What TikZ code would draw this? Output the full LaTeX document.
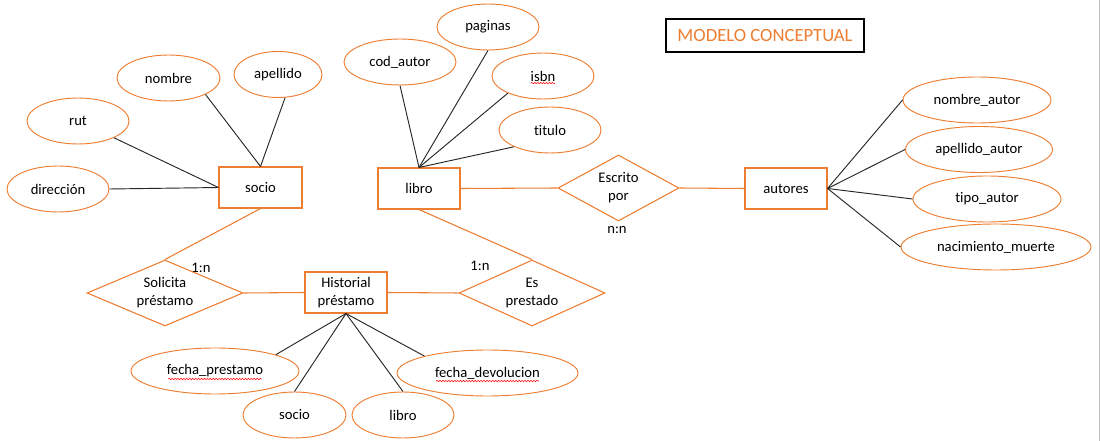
\documentclass[tikz,border=0pt]{standalone}
\usepackage{fontspec}
\setmainfont{Carlito}[Ligatures=NoCommon]
\usepackage{tikz}
\usetikzlibrary{shapes.geometric}
\usetikzlibrary{decorations.pathmorphing}
\definecolor{naranja}{RGB}{237,125,49}
\tikzset{
	attr node/.style={ellipse,draw=naranja,line width=0.7pt,inner sep=0pt,minimum height=34.5pt},
	ent node/.style={rectangle,draw=naranja,line width=0.8pt,inner sep=0pt,minimum width=61.5pt,minimum height=30.75pt,align=center},
	rel node/.style={diamond,draw=naranja,line width=0.8pt,inner sep=0pt,minimum height=49.5pt,align=center},
	attr line/.style={draw=black!85,line width=0.7pt},
	rel line/.style={draw=naranja,line width=0.8pt},
	spell/.style={draw=red,line width=0.4pt,decorate,decoration={snake,amplitude=0.5pt,segment length=2.2pt}}
}

\begin{document}
\begin{tikzpicture}[x=0.75pt,y=-0.75pt,every node/.style={font=\fontsize{11}{13.4}\selectfont}]
	\useasboundingbox (0,0) rectangle (1100,441);
	% socio
	\node [ent node,minimum width=62.25pt] (1) at (260.5,187.5) {socio};
	\node [attr node,minimum width=77.25pt] (2) at (168.5,78) {nombre};
	\node [attr node,minimum width=66pt] (3) at (278,74.5) {apellido};
	\node [attr node,minimum width=76.5pt] (4) at (78,121) {rut};
	\node [attr node,minimum width=76.5pt] (5) at (58,189) {dirección};
	% libro
	\node [ent node] (6) at (419,188.5) {libro};
	\node [attr node,minimum width=84pt] (7) at (400,62) {cod\_autor};
	\node [attr node,minimum width=76.5pt] (8) at (488,27) {paginas};
	\node [attr node,minimum width=76.5pt] (9) at (543,76) {isbn};
	\node [attr node,minimum width=76.5pt] (10) at (550,130) {titulo};
	\node [rel node,aspect=1.83,minimum width=90.75pt] (11) at (618.5,188) {Escrito\\por};
	% autores
	\node [ent node] (12) at (786,188.5) {autores};
	\node [attr node,minimum width=111pt] (13) at (977,100) {nombre\_autor};
	\node [attr node,minimum width=110.25pt] (14) at (979,149.5) {apellido\_autor};
	\node [attr node,minimum width=111pt] (15) at (987,199) {tipo\_autor};
	\node [attr node,minimum width=142.5pt] (16) at (996,247) {nacimiento\_muerte};
	% historial
	\node [rel node,aspect=2.36,minimum width=117pt] (17) at (165,293) {Solicita\\préstamo};
	\node [ent node] (18) at (346,292.5) {Historial\\préstamo};
	\node [rel node,aspect=2.2,minimum width=109.5pt] (19) at (532,293) {Es\\prestado};
	\node [attr node,minimum width=126pt] (20) at (215,371) {fecha\_prestamo};
	\node [attr node,minimum width=77.25pt] (21) at (294.5,415) {socio};
	\node [attr node,minimum width=76.5pt] (22) at (403,415) {libro};
	\node [attr node,minimum width=135.75pt] (23) at (487.5,373) {fecha\_devolucion};
	\node [draw=black,line width=1.4pt,inner sep=0pt,minimum width=148.5pt,minimum height=24.75pt,text=naranja,font=\fontsize{14}{17}\selectfont] (24) at (765,35.5) {MODELO CONCEPTUAL};
	\node (25) at (617,230) {n:n};
	\node (26) at (201,268) {1:n};
	\node (27) at (480,266) {1:n};

	\draw [attr line] (1.north) -- (2.-24);
	\draw [attr line] (1.north) -- (3.-73);
	\draw [attr line] (1.west) -- (4.-25);
	\draw [attr line] (1.west) -- (5.east);
	\draw [attr line] (6.north) -- (7.south);
	\draw [attr line] (6.north) -- (8.south);
	\draw [attr line] (6.north) -- (9.206);
	\draw [attr line] (6.north) -- (10.205);
	\foreach \n in {13,...,16}
		\draw [attr line] (12.east) -- (\n.west);
	\draw [attr line] (18.south) -- (20.15);
	\draw [attr line] (18.south) -- (21.north);
	\draw [attr line] (18.south) -- (22.north);
	\draw [attr line] (18.south) -- (23.165);
	\draw [rel line] (6.east) -- (11.west);
	\draw [rel line] (11.east) -- (12.west);
	\draw [rel line] (1.south) -- (17.north);
	\draw [rel line] (17.east) -- (18.west);
	\draw [rel line] (18.east) -- (19.west);
	\draw [rel line] (6.south) -- (19.north);

	% spell check marks
	\draw [spell] ([xshift=-9pt,yshift=-5.3pt]9.center) -- ([xshift=9pt,yshift=-5.3pt]9.center);
	\draw [spell] ([xshift=-35pt,yshift=-6pt]20.center) -- ([xshift=35pt,yshift=-6pt]20.center);
	\draw [spell] ([xshift=-38.5pt,yshift=-6pt]23.center) -- ([xshift=38.5pt,yshift=-6pt]23.center);
	\draw [black!25,line width=0.75pt] (1099.5,0) -- (1099.5,441);
\end{tikzpicture}
\end{document}
